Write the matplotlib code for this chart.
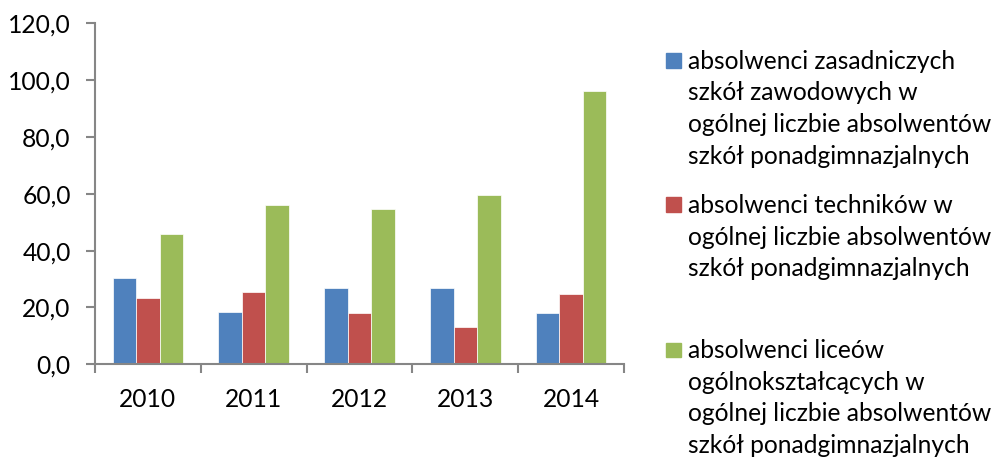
import numpy as np
import matplotlib.pyplot as plt
from matplotlib.patches import Rectangle

plt.rcParams['font.family'] = ['Lato', 'DejaVu Sans']

years = ['2010', '2011', '2012', '2013', '2014']
zasadnicze = [30.5, 18.3, 26.8, 26.7, 17.9]
technika = [23.4, 25.3, 18.0, 13.2, 24.6]
licea = [45.7, 55.9, 54.5, 59.6, 96.3]

series = [zasadnicze, technika, licea]
colors = ['#4F81BD', '#C0504D', '#9BBB59']
labels = [
    'absolwenci zasadniczych\nszkół zawodowych w\nogólnej liczbie absolwentów\nszkół ponadgimnazjalnych',
    'absolwenci techników w\nogólnej liczbie absolwentów\nszkół ponadgimnazjalnych',
    'absolwenci liceów\nogólnokształcących w\nogólnej liczbie absolwentów\nszkół ponadgimnazjalnych',
]

W, H = 995, 459
fig = plt.figure(figsize=(W / 100, H / 100), dpi=100)
ax = fig.add_axes([95 / W, 1 - 364.3 / H, (624 - 95) / W, (364.3 - 23.3) / H])

x = np.arange(len(years))
bw = 1 / 4.5
for i, (vals, c) in enumerate(zip(series, colors)):
    ax.bar(x + (i - 1) * bw, vals, width=bw, color=c, edgecolor='white', linewidth=0.5)

ax.set_xlim(-0.5, len(years) - 0.5)
ax.set_ylim(0, 120)
ax.set_yticks(np.arange(0, 121, 20))
ax.yaxis.set_major_formatter(plt.FuncFormatter(lambda v, p: ('%.1f' % v).replace('.', ',')))
ax.set_xticks(x)
ax.set_xticklabels(years)
ax.set_xticks(np.arange(-0.5, len(years), 1), minor=True)

gray = '#868686'
for s in ['top', 'right']:
    ax.spines[s].set_visible(False)
for s in ['left', 'bottom']:
    ax.spines[s].set_color(gray)
    ax.spines[s].set_linewidth(1.5)

fs = 17.7
ax.tick_params(axis='y', length=6.5, width=1.5, color=gray, pad=11, labelsize=fs)
ax.tick_params(axis='x', which='major', length=0, pad=17, labelsize=fs)
ax.tick_params(axis='x', which='minor', length=6.5, width=1.5, color=gray)

# legend drawn by hand: square at first line, text top-aligned
tops = [60.7, 205, 350]
for lab, c, yc in zip(labels, colors, tops):
    fig.patches.append(Rectangle((666 / W, 1 - (yc + 7) / H), 14.5 / W, 14.5 / H,
                                 transform=fig.transFigure, color=c))
    fig.text(688 / W, 1 - (yc - 11) / H, lab, fontsize=fs, va='top', ha='left',
             linespacing=1.46)

fig.savefig('out.png', dpi=100)
